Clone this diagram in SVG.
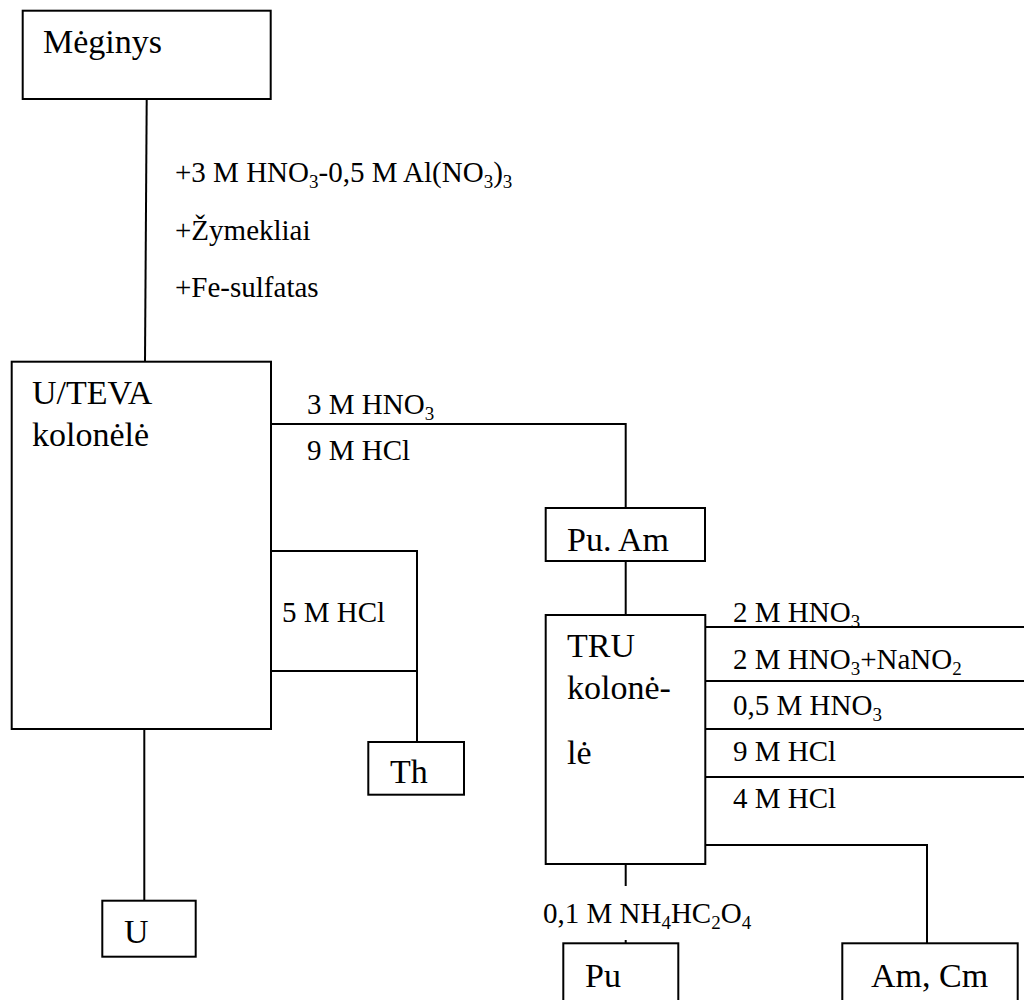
<svg xmlns="http://www.w3.org/2000/svg" width="1024" height="1000" viewBox="0 0 1024 1000">
<style>
.box{fill:#fff;stroke:#000;stroke-width:2}
.ln{fill:none;stroke:#000;stroke-width:2}
.bt{font-family:"Liberation Serif","Times New Roman",serif;font-size:34px;fill:#000}
.lt{font-family:"Liberation Serif","Times New Roman",serif;font-size:29px;fill:#000}
.sub{font-size:19px}
</style>
<rect width="1024" height="1000" fill="#fff"/>
<g id="connectors">
<path class="ln" d="M146.7 99 L145 362"/>
<path class="ln" d="M271 424 H625.7 V508"/>
<path class="ln" d="M271 551 H417 V742"/>
<path class="ln" d="M271 671 H417"/>
<path class="ln" d="M144.3 729 V901"/>
<path class="ln" d="M625.7 561 V615"/>
<path class="ln" d="M705 627 H1024"/>
<path class="ln" d="M705 681 H1024"/>
<path class="ln" d="M705 729 H1024"/>
<path class="ln" d="M705 777 H1024"/>
<path class="ln" d="M705 845 H927 V943"/>
<path class="ln" d="M625.7 864 V886"/>
<path class="ln" d="M625.7 940 V943"/>
</g>
<g id="labels">
<text class="lt" x="175" y="182">+3 M HNO<tspan class="sub" dy="6">3</tspan><tspan dy="-6">-0,5 M Al(NO</tspan><tspan class="sub" dy="6">3</tspan><tspan dy="-6">)</tspan><tspan class="sub" dy="6">3</tspan></text>
<text class="lt" x="175" y="240">+Žymekliai</text>
<text class="lt" x="175" y="297">+Fe-sulfatas</text>
<text class="lt" x="307" y="414">3 M HNO<tspan class="sub" dy="6">3</tspan></text>
<text class="lt" x="307" y="460">9 M HCl</text>
<text class="lt" x="282" y="622">5 M HCl</text>
<text class="lt" x="733" y="622">2 M HNO<tspan class="sub" dy="6">3</tspan></text>
<text class="lt" x="733" y="669">2 M HNO<tspan class="sub" dy="6">3</tspan><tspan dy="-6">+NaNO</tspan><tspan class="sub" dy="6">2</tspan></text>
<text class="lt" x="733" y="715">0,5 M HNO<tspan class="sub" dy="6">3</tspan></text>
<text class="lt" x="733" y="761">9 M HCl</text>
<text class="lt" x="733" y="808">4 M HCl</text>
<text class="lt" x="543" y="923">0,1 M NH<tspan class="sub" dy="6">4</tspan><tspan dy="-6">HC</tspan><tspan class="sub" dy="6">2</tspan><tspan dy="-6">O</tspan><tspan class="sub" dy="6">4</tspan></text>
</g>
<g id="meginys">
<rect class="box" x="22.7" y="10.7" width="248" height="88.3"/>
<text class="bt" x="43" y="53">Mėginys</text>
</g>
<g id="uteva">
<rect class="box" x="11.7" y="361.7" width="259.3" height="367.3"/>
<text class="bt" x="32" y="404">U/TEVA</text>
<text class="bt" x="32" y="446">kolonėlė</text>
</g>
<g id="th">
<rect class="box" x="368.3" y="742" width="95.7" height="52.7"/>
<text class="bt" x="390" y="783">Th</text>
</g>
<g id="u">
<rect class="box" x="102.3" y="900.7" width="93.4" height="56"/>
<text class="bt" x="124" y="943">U</text>
</g>
<g id="puam">
<rect class="box" x="545.7" y="508" width="159.3" height="53"/>
<text class="bt" x="567" y="551">Pu. Am</text>
</g>
<g id="tru">
<rect class="box" x="545.7" y="615" width="159.6" height="249"/>
<text class="bt" x="567" y="657">TRU</text>
<text class="bt" x="567" y="699">kolonė-</text>
<text class="bt" x="567" y="764">lė</text>
</g>
<g id="pu">
<rect class="box" x="563.3" y="943.3" width="115" height="70"/>
<text class="bt" x="585" y="987">Pu</text>
</g>
<g id="amcm">
<rect class="box" x="842.3" y="943.3" width="175.4" height="70"/>
<text class="bt" x="871" y="987">Am, Cm</text>
</g>
</svg>
